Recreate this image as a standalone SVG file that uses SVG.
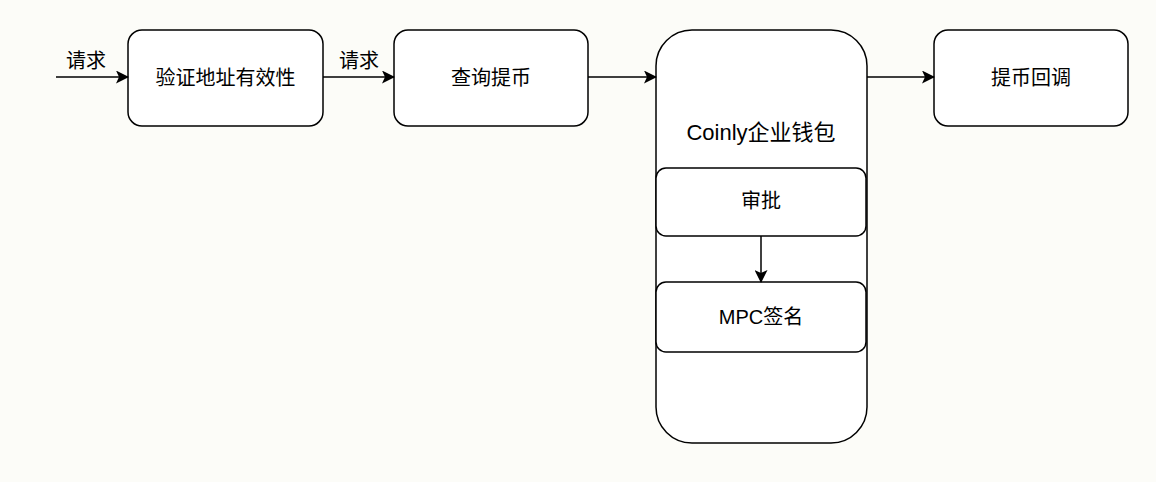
<svg xmlns="http://www.w3.org/2000/svg" width="1156" height="482" viewBox="0 0 1156 482">
<style>
.n{fill:#fff;stroke:#000;stroke-width:1.5}
.t{font-family:"Liberation Sans","Noto Sans CJK SC",sans-serif;font-size:20px;fill:#000;text-anchor:middle;dominant-baseline:central}
.c{stroke:#000;stroke-width:1.5;fill:none;marker-end:url(#a)}
</style>
<defs><marker id="a" markerWidth="13" markerHeight="13" refX="12" refY="6.5" orient="auto" markerUnits="userSpaceOnUse"><path d="M0,0 L13,6.5 L0,13 L3,6.5 Z" fill="#000"/></marker></defs>
<rect width="1156" height="482" fill="#fcfcf8"/>
<g id="n1"><rect class="n" x="128" y="30" width="195" height="96" rx="14"/><text class="t" x="225.5" y="78">验证地址有效性</text></g>
<g id="n2"><rect class="n" x="394" y="30" width="194" height="96" rx="14"/><text class="t" x="491" y="78">查询提币</text></g>
<g id="n3"><rect class="n" x="656" y="30" width="211" height="413" rx="36"/><text class="t" x="761" y="132" style="font-size:22px">Coinly企业钱包</text></g>
<g id="n4"><rect class="n" x="656" y="168" width="210" height="68" rx="10"/><text class="t" x="761" y="201">审批</text></g>
<g id="n5"><rect class="n" x="656" y="282" width="210" height="70" rx="10"/><text class="t" x="761" y="317">MPC签名</text></g>
<g id="n6"><rect class="n" x="934" y="30" width="194" height="96" rx="14"/><text class="t" x="1031" y="78">提币回调</text></g>
<g id="connectors">
<path class="c" d="M56,77 H128"/>
<text class="t" x="86" y="61">请求</text>
<path class="c" d="M323,77 H394"/>
<text class="t" x="359" y="61">请求</text>
<path class="c" d="M588,77 H656"/>
<path class="c" d="M867,77 H934"/>
<path class="c" d="M761,236 V282"/>
</g>
</svg>
